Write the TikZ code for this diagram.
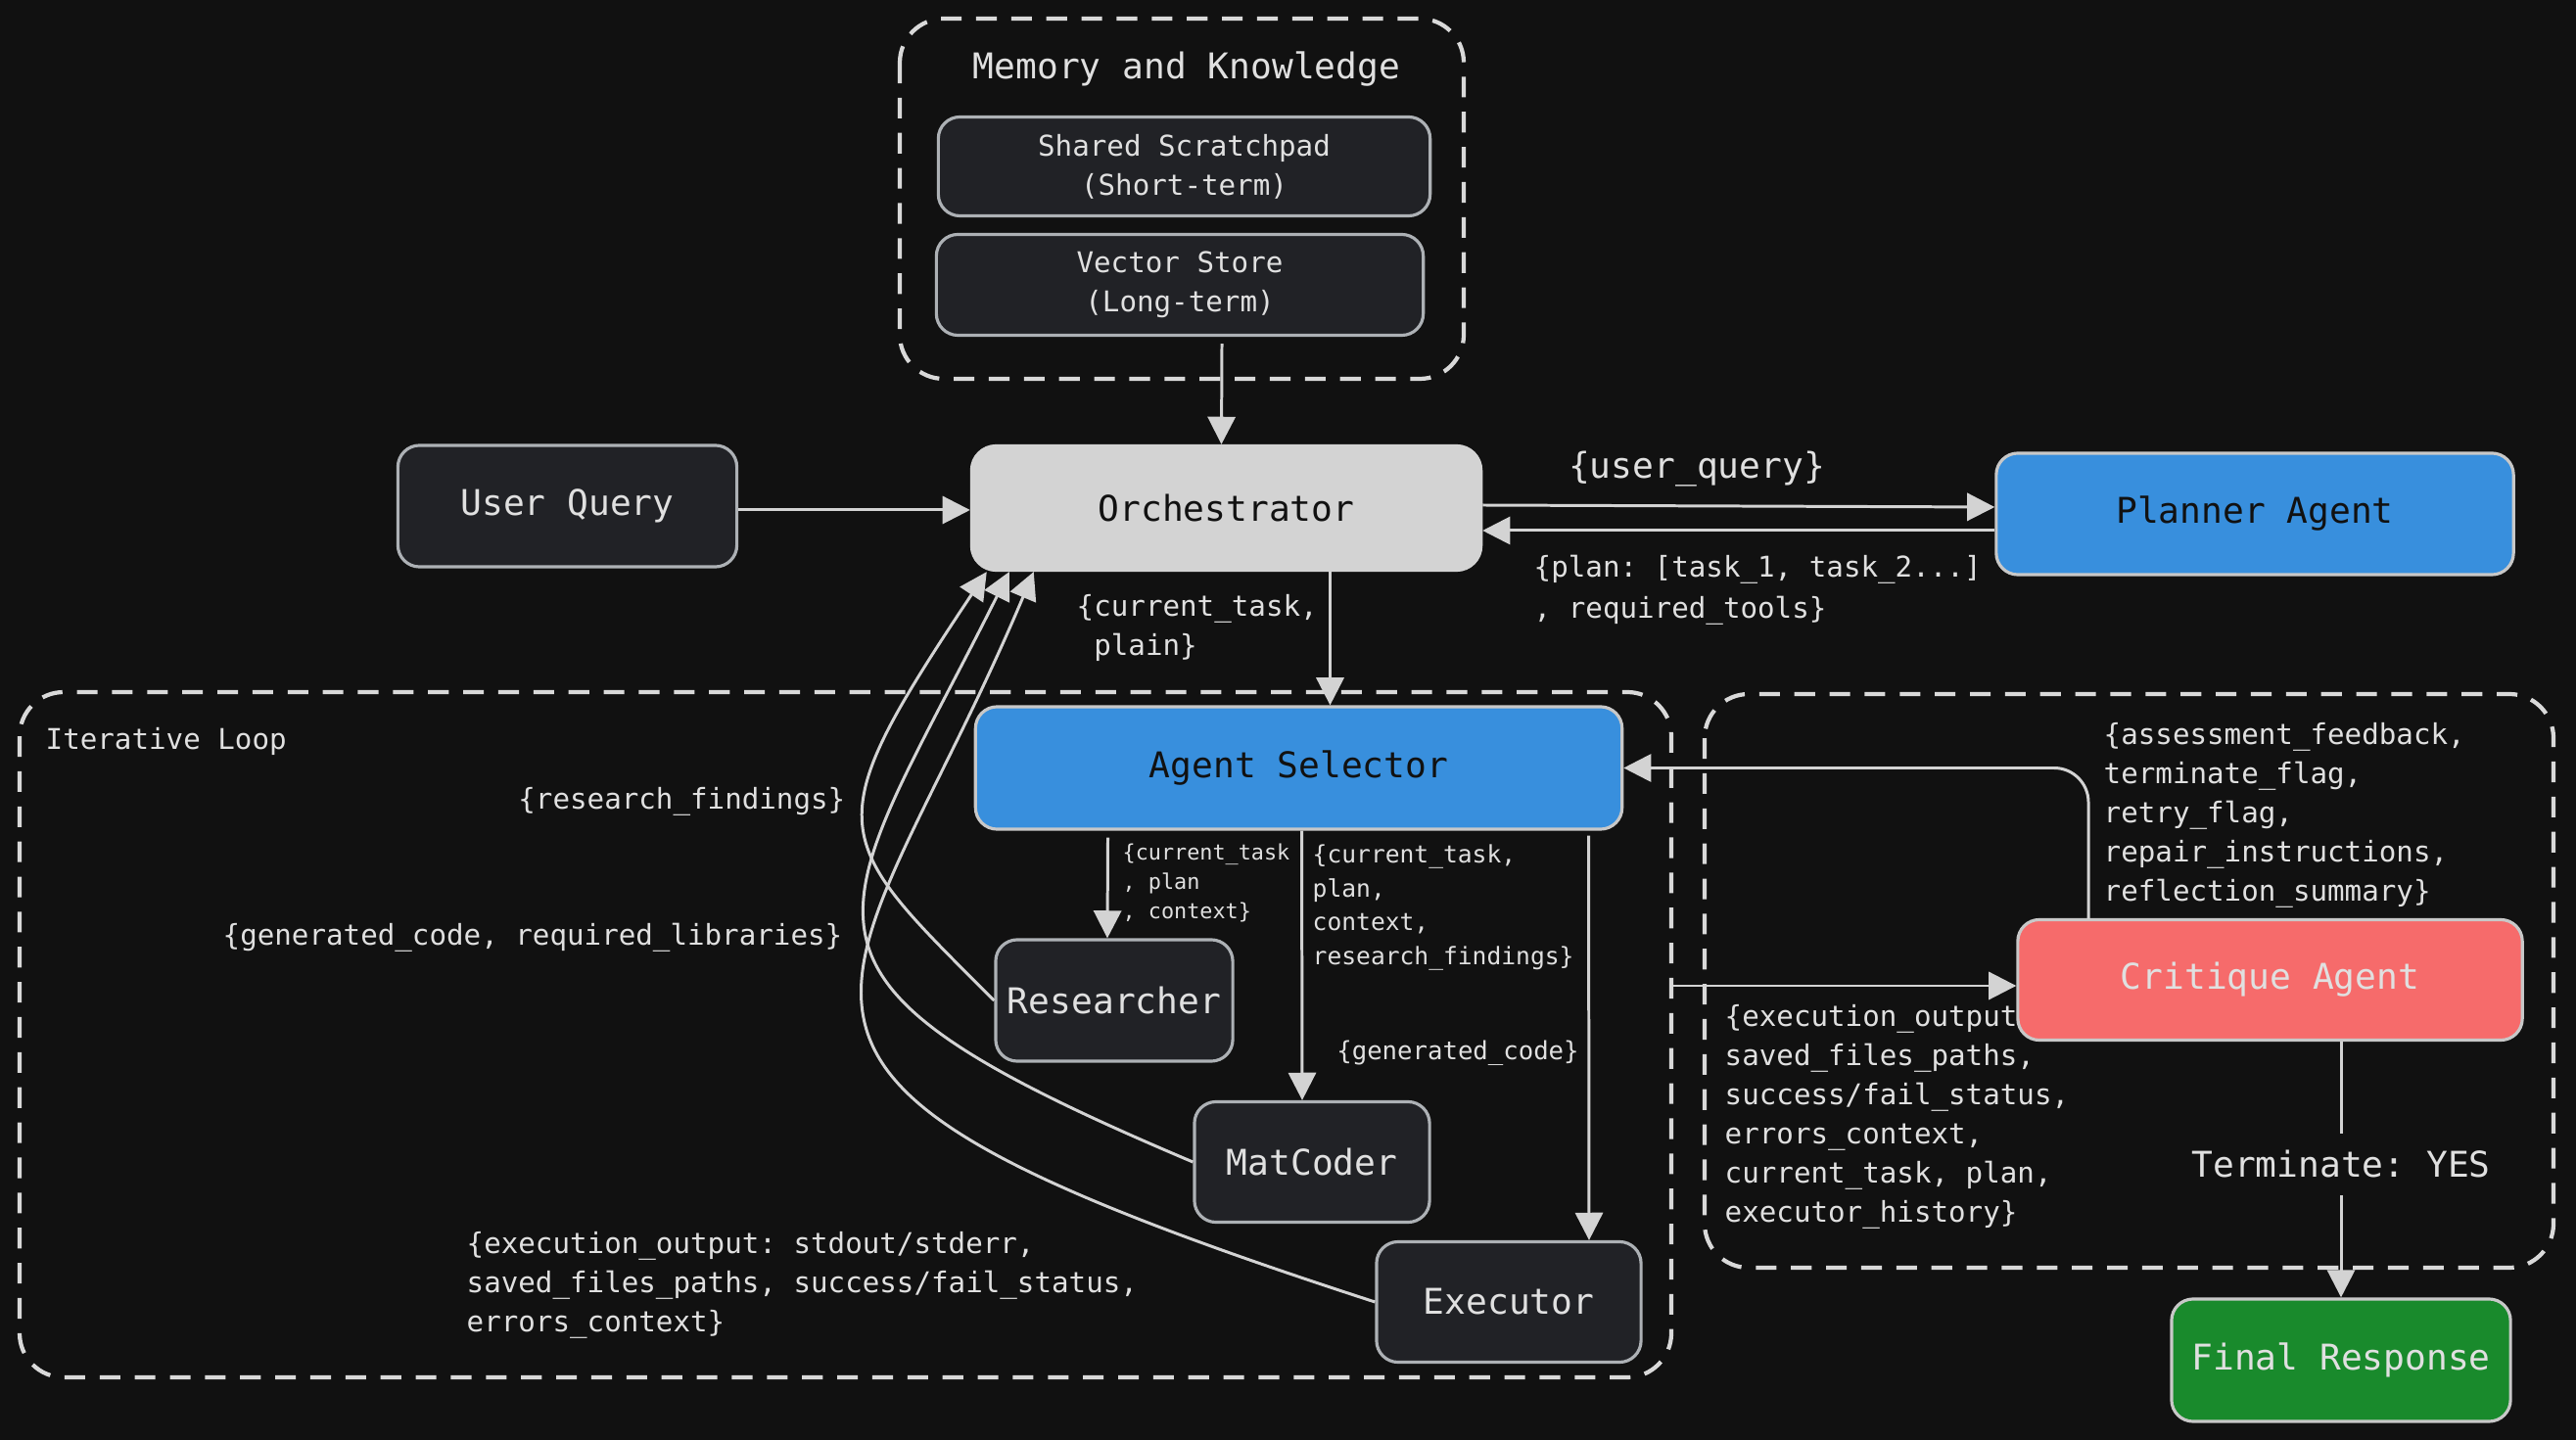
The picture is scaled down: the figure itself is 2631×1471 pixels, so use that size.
\documentclass[tikz,border=0pt]{standalone}
\usepackage{fontspec}
\setmonofont{DejaVu Sans Mono}
\usetikzlibrary{arrows.meta,calc}
\definecolor{bg}{HTML}{111111}
\definecolor{edge}{HTML}{D3D3D3}
\definecolor{dashc}{HTML}{D9D9D9}
\definecolor{dark}{HTML}{212226}
\definecolor{darkbd}{HTML}{ADB1B5}
\definecolor{orchf}{HTML}{D3D3D3}
\definecolor{bluef}{HTML}{388FDD}
\definecolor{redf}{HTML}{F66B6B}
\definecolor{greenf}{HTML}{198A2C}
\definecolor{lightbd}{HTML}{C8C8C8}
\definecolor{txt}{HTML}{E0E0E0}
\definecolor{ink}{HTML}{111111}
\newcommand\fL{\ttfamily\fontsize{10.3}{12.4}\selectfont}
\newcommand\fM{\ttfamily\fontsize{8.3}{11.4}\selectfont}
\begin{document}
\begin{tikzpicture}[x=0.01cm,y=-0.01cm,
  every node/.style={inner sep=0pt},
  box/.style={rounded corners=0.22cm, line width=0.9pt, align=center, font=\fL},
  darkbox/.style={box, fill=dark, draw=darkbd, text=txt},
  bluebox/.style={box, fill=bluef, draw=lightbd, text=ink},
  cluster/.style={draw=dashc, line width=1.2pt, dash pattern=on 6pt off 4.2pt, rounded corners=0.45cm},
  arr/.style={draw=edge, line width=0.85pt, -{Triangle[length=8pt,width=8pt]}},
  lbl/.style={text=txt, align=left},
]
\fill[bg] (0,0) rectangle (2631,1471);
\useasboundingbox (0,0) rectangle (2631,1471);

% clusters
\draw[cluster] (919,19) rectangle (1495,387);
\draw[cluster] (20,707) rectangle (1707,1407);
\draw[cluster] (1741,709) rectangle (2608,1295);
\coordinate (loopE) at (1709,1007);

\node[lbl, font=\fL] (memt) at (1212,71) {Memory and Knowledge};
\node[lbl, font=\fM, anchor=west] (loopt) at (46,757) {Iterative Loop};

% labels
\node[lbl, font=\fL] (l1) at (1733,479) {\{user\_query\}};
\node[lbl, anchor=west, font={\ttfamily\fontsize{8.3}{11.9}\selectfont}] (l2) at (1566,603) {\{plan: [task\_1, task\_2...]\\, required\_tools\}};
\node[lbl, anchor=west, font=\fM] (l3) at (1099,641) {\{current\_task,\\~plain\}};
\node[lbl, anchor=east, font=\fM] (l4) at (864,819) {\{research\_findings\}};
\node[lbl, anchor=east, font=\fM] (l5) at (861,958) {\{generated\_code, required\_libraries\}};
\node[lbl, anchor=west, font={\ttfamily\fontsize{6.2}{8.5}\selectfont}] (l6) at (1146,902) {\{current\_task\\, plan\\, context\}};
\node[lbl, anchor=west, font={\ttfamily\fontsize{7}{9.8}\selectfont}] (l7) at (1340,927) {\{current\_task,\\plan,\\context,\\research\_findings\}};
\node[lbl, font={\ttfamily\fontsize{7.3}{9}\selectfont}] (l8) at (1489,1076) {\{generated\_code\}};
\node[lbl, anchor=west, font=\fM] (l9) at (476,1313) {\{execution\_output: stdout/stderr,\\saved\_files\_paths, success/fail\_status,\\errors\_context\}};
\node[lbl, anchor=west, font=\fM] (l10) at (2148,833) {\{assessment\_feedback,\\terminate\_flag,\\retry\_flag,\\repair\_instructions,\\reflection\_summary\}};
\node[lbl, anchor=west, font=\fM] (l11) at (1761,1141) {\{execution\_output,\\saved\_files\_paths,\\success/fail\_status,\\errors\_context,\\current\_task, plan,\\executor\_history\}};

% nodes
\node[darkbox, font=\fM, minimum width=5.02cm, minimum height=1.01cm] (scr) at (1209.5,170) {Shared Scratchpad\\(Short-term)};
\node[darkbox, font=\fM, minimum width=4.97cm, minimum height=1.03cm] (vec) at (1205,291) {Vector Store\\(Long-term)};
\node[darkbox, minimum width=3.46cm, minimum height=1.24cm] (uq) at (579.5,517) {User Query};
\node[box, fill=orchf, draw=orchf, text=ink, rounded corners=0.25cm, minimum width=5.20cm, minimum height=1.27cm] (orch) at (1252.5,519) {Orchestrator};
\node[bluebox, minimum width=5.28cm, minimum height=1.24cm] (plan) at (2303,525) {Planner Agent};
\node[bluebox, minimum width=6.60cm, minimum height=1.25cm] (sel) at (1326.5,784.5) {Agent Selector};
\node[darkbox, minimum width=2.42cm, minimum height=1.24cm] (res) at (1138,1022) {Researcher};
\node[darkbox, minimum width=2.40cm, minimum height=1.23cm] (mat) at (1340,1187) {MatCoder};
\node[darkbox, minimum width=2.70cm, minimum height=1.23cm] (exe) at (1541,1330) {Executor};
\node[box, fill=redf, draw=lightbd, text=txt, minimum width=5.15cm, minimum height=1.23cm] (crit) at (2318.5,1001) {Critique Agent};
\node[box, fill=greenf, draw=lightbd, text=txt, minimum width=3.46cm, minimum height=1.25cm] (fin) at (2391,1389.5) {Final Response};

% edges
\draw[arr] ($(vec.south)+(43,7)$) -- ($(orch.north)+(-5,0)$);
\draw[arr] ($(uq.east)+(0,4)$) -- ($(orch.west)+(0,2)$);
\draw[arr] ($(orch.east)+(0,-3)$) -- ($(plan.west)+(0,-7)$);
\draw[arr] ($(plan.west)+(0,17)$) -- ($(orch.east)+(0,23)$);
\draw[arr] ($(orch.south)+(106,0)$) -- ($(sel.north)+(32,0)$);
\draw[arr] ($(sel.south)+(-195,7)$) -- ($(res.north)+(-7,0)$);
\draw[arr] ($(sel.south)+(3,0)$) -- ($(mat.north)+(-10,0)$);
\draw[arr] ($(sel.south)+(296,5)$) -- ($(exe.north)+(82,0)$);

\draw[arr] (res.west) .. controls (847,854) and (832,848) .. ($(orch.south west)+(17,0)$);
\draw[arr] (mat.west) .. controls (762,994) and (848,949) .. ($(orch.south west)+(40,0)$);
\draw[arr] (exe.west) .. controls (674,1093) and (863,1041) .. ($(orch.south west)+(65,0)$);

\draw[arr] (loopE) -- (loopE -| crit.west);
\coordinate (cs) at (2133,939);
\draw[arr, rounded corners=0.35cm] (cs) |- (sel.east);
\draw[arr] (fin.north |- crit.south) -- node[fill=bg, inner xsep=2pt, inner ysep=5pt, text=txt, font=\fL, yshift=1.5pt] (term) {Terminate: YES} (fin.north);
\end{tikzpicture}
\end{document}
